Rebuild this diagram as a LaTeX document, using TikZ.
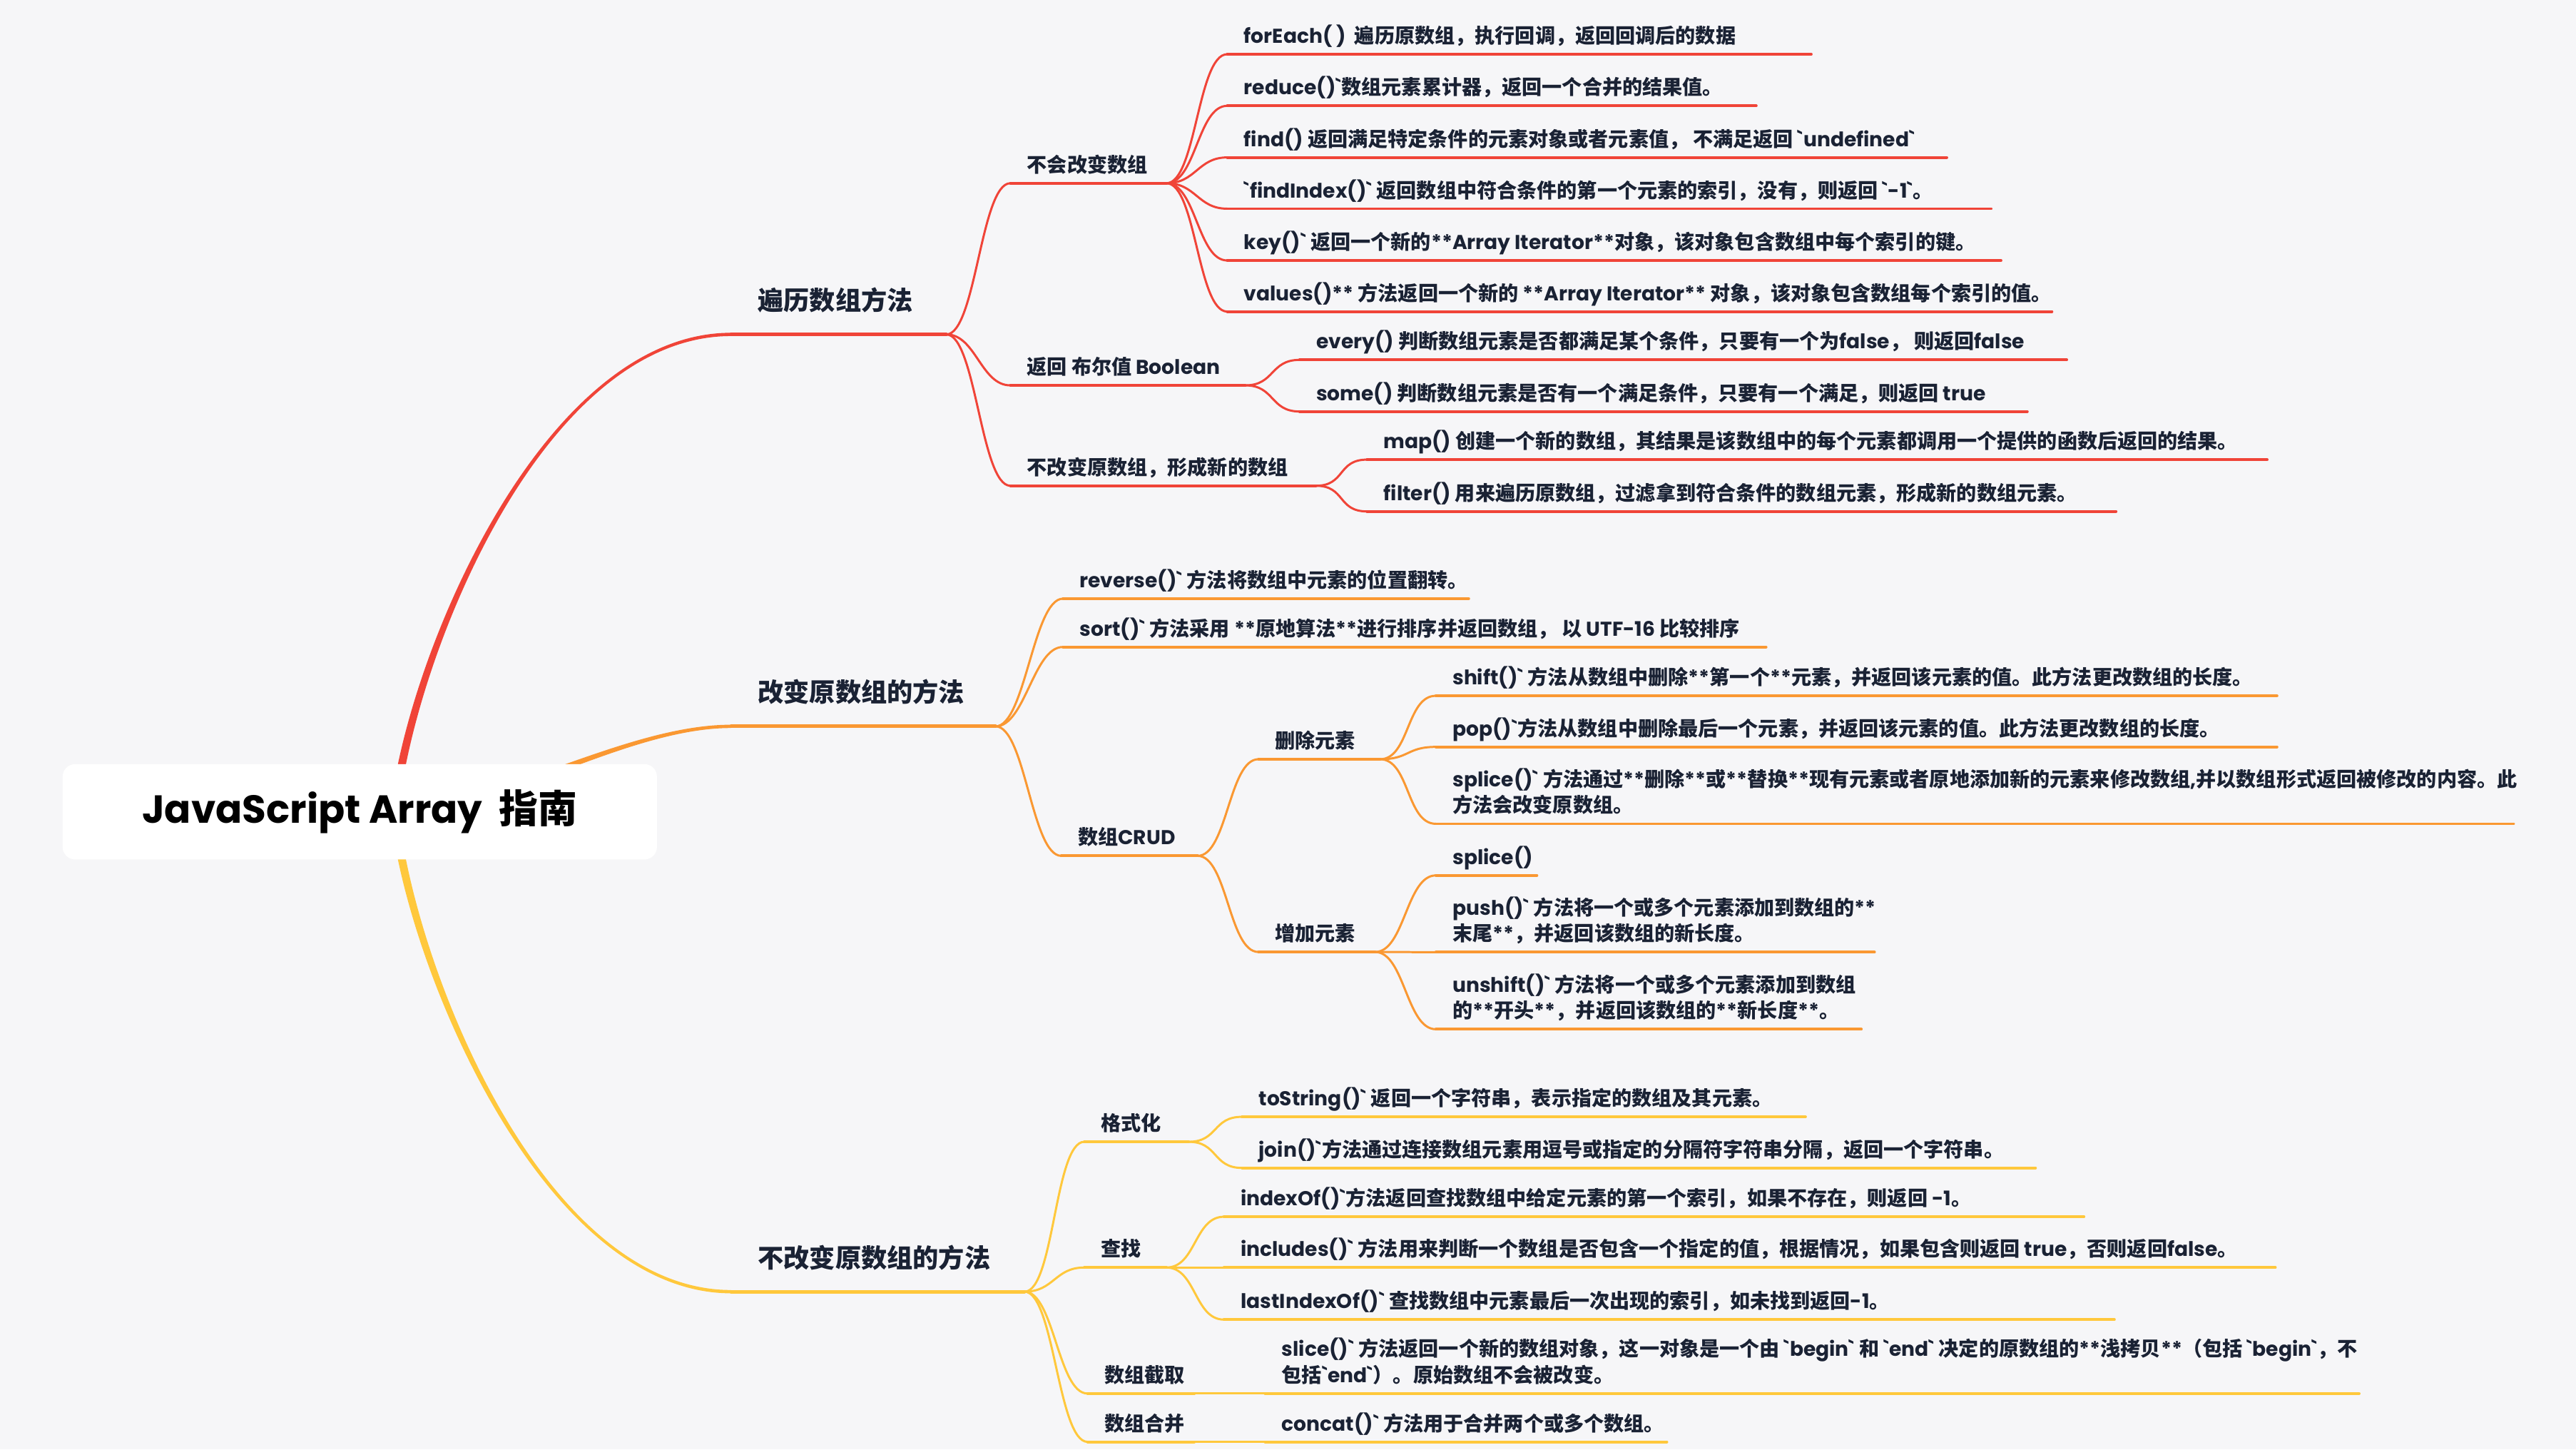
\documentclass[tikz,border=0pt]{standalone}
\usepackage{fontspec}
\usetikzlibrary{calc}
\newfontfamily\latfont{Poppins}
\newfontfamily\zhfont{Noto Sans CJK SC}
\definecolor{bgc}{RGB}{246,246,248}
\definecolor{brRed}{RGB}{240,68,56}
\definecolor{brOrg}{RGB}{250,152,50}
\definecolor{brYel}{RGB}{255,200,60}
\definecolor{ink}{RGB}{26,34,52}
% CJK runs are set in the CJK face, the rest in Poppins
\XeTeXinterchartokenstate=1
\newXeTeXintercharclass\zhcls
\newcount\clsi
\def\setcls#1#2#3{\clsi=#1\relax
  \loop\XeTeXcharclass\clsi=#3\relax\advance\clsi by 1\relax
  \ifnum\clsi<#2\relax\repeat}
\setcls{"21}{"100}{0}
\setcls{"3000}{"A000}{\zhcls}
\setcls{"FF00}{"FFF0}{\zhcls}
\XeTeXinterchartoks 0 \zhcls = {\begingroup\zhfont}
\XeTeXinterchartoks 4095 \zhcls = {\begingroup\zhfont}
\XeTeXinterchartoks \zhcls 0 = {\endgroup}
\XeTeXinterchartoks \zhcls 4095 = {\endgroup}

\begin{document}
\begin{tikzpicture}[x=0.02303cm, y=-0.02303cm,
    lab/.style={anchor=south west, inner xsep=6.5pt, inner ysep=2.4pt,
                text depth=1.8pt, align=left, text=ink,
                font=\latfont\bfseries\fontsize{8.0}{10.4}\selectfont},
    br/.style={anchor=south west, inner xsep=10.5pt, inner ysep=7pt,
               text depth=2.5pt, text=ink,
               font=\latfont\bfseries\fontsize{10.3}{12}\selectfont},
    ul/.style={line width=1.1pt, line cap=round},
    brul/.style={line width=1.4pt, line cap=round},
    wire/.style={line width=0.85pt, line cap=round},
    root/.style={fill=white, rounded corners=5pt, minimum width=237pt,
                 minimum height=38pt, inner sep=0pt, text=black,
                 font=\latfont\bfseries\fontsize{15.6}{18}\selectfont}]
  % page in reference pixels (1568 x 882), y pointing down
  \useasboundingbox (0,0) rectangle (1568,882);
  \fill[bgc] (0,0) rectangle (1568,882);
  \def\cx{18}
  \coordinate (hub) at (240,494);
  % --- branch 1: traversal ---------------------------------------------------
  \node[br]  (b1)  at (445,203.5) {遍历数组方法};
  \node[lab] (n11) at (615,111.5) {不会改变数组};
  \node[lab] (n12) at (615,234.5) {返回 布尔值 Boolean};
  \node[lab] (n13) at (615,295.6) {不改变原数组，形成新的数组};
  \node[lab] (forEach)   at (747,33)    {forEach( )~~遍历原数组，执行回调，返回回调后的数据};
  \node[lab] (reduce)    at (747,64.4)  {reduce()`数组元素累计器，返回一个合并的结果值。};
  \node[lab] (find)      at (747,95.8)  {find() 返回满足特定条件的元素对象或者元素值， 不满足返回 `undefined`};
  \node[lab] (findIndex) at (747,127)   {`findIndex()` 返回数组中符合条件的第一个元素的索引，没有，则返回 `-1`。};
  \node[lab] (key)       at (747,158.5) {key()` 返回一个新的**Array Iterator**对象，该对象包含数组中每个索引的键。};
  \node[lab] (values)    at (747,189.6) {values()** 方法返回一个新的 **Array Iterator** 对象，该对象包含数组每个索引的值。};
  \node[lab] (every)     at (791,219)   {every() 判断数组元素是否都满足某个条件，只要有一个为false， 则返回false};
  \node[lab] (some)      at (791,250.4) {some() 判断数组元素是否有一个满足条件，只要有一个满足，则返回 true};
  \node[lab] (map)       at (832,279.7) {map() 创建一个新的数组，其结果是该数组中的每个元素都调用一个提供的函数后返回的结果。};
  \node[lab] (filter)    at (832,311.2) {filter() 用来遍历原数组，过滤拿到符合条件的数组元素，形成新的数组元素。};
  % --- branch 2: mutating ----------------------------------------------------
  \node[br]  (b2)   at (445,442)   {改变原数组的方法};
  \node[lab] (reverse) at (647,364.3) {reverse()` 方法将数组中元素的位置翻转。};
  \node[lab] (sort)    at (647,393.7) {sort()` 方法采用 **原地算法**进行排序并返回数组， 以 UTF-16 比较排序};
  \node[lab] (n21)  at (646,520.8) {数组CRUD};
  \node[lab] (n211) at (766,462)   {删除元素};
  \node[lab] (n212) at (766,579.3) {增加元素};
  \node[lab] (shift)  at (874,423.4) {shift()` 方法从数组中删除**第一个**元素，并返回该元素的值。此方法更改数组的长度。};
  \node[lab] (pop)    at (874,454.5) {pop()`方法从数组中删除最后一个元素，并返回该元素的值。此方法更改数组的长度。};
  \node[lab] (splice) at (874,501.3) {splice()` 方法通过**删除**或**替换**现有元素或者原地添加新的元素来修改数组,并以数组形式返回被修改的内容。此\\方法会改变原数组。};
  \node[lab] (spliceAdd) at (874,532.7) {splice()};
  \node[lab] (push)    at (874,579.4) {push()` 方法将一个或多个元素添加到数组的**\\末尾**，并返回该数组的新长度。};
  \node[lab] (unshift) at (874,626.3) {unshift()` 方法将一个或多个元素添加到数组\\的**开头**，并返回该数组的**新长度**。};
  % --- branch 3: non-mutating ------------------------------------------------
  \node[br]  (b3)  at (445,786)   {不改变原数组的方法};
  \node[lab] (n31) at (660,694.8) {格式化};
  \node[lab] (n32) at (660,771.3) {查找};
  \node[lab] (n33) at (662,848)   {数组截取};
  \node[lab] (n34) at (662,877.4) {数组合并};
  \node[lab] (toString)    at (756,679.6) {toString()` 返回一个字符串，表示指定的数组及其元素。};
  \node[lab] (join)        at (756,710.7) {join()`方法通过连接数组元素用逗号或指定的分隔符字符串分隔，返回一个字符串。};
  \node[lab] (indexOf)     at (745,740.4) {indexOf()`方法返回查找数组中给定元素的第一个索引，如果不存在，则返回 -1。};
  \node[lab] (includes)    at (745,771.3) {includes()` 方法用来判断一个数组是否包含一个指定的值，根据情况，如果包含则返回 true，否则返回false。};
  \node[lab] (lastIndexOf) at (745,803)   {lastIndexOf()` 查找数组中元素最后一次出现的索引，如未找到返回-1。};
  \node[lab] (slice)  at (770,848)   {slice()` 方法返回一个新的数组对象，这一对象是一个由 `begin` 和 `end` 决定的原数组的**浅拷贝**（包括 `begin`，不\\包括`end`）。原始数组不会被改变。};
  \node[lab] (concat) at (770,877.4) {concat()` 方法用于合并两个或多个数组。};
  % --- main curves out of the root, tapering ---------------------------------
  \fill[brRed] ($(hub)+(-2.5,0)$) .. controls +(10,-94) and +(-115,0) .. ($(b1.south west)+(0,-1)$)
    -- ($(b1.south west)+(0,1)$) .. controls +(-115,0) and +(10,-94) .. ($(hub)+(2.5,0)$) -- cycle;
  \fill[brOrg] ($(hub)+(0,-2.5)$) .. controls +(60,0) and +(-65,0) .. ($(b2.south west)+(0,-1)$)
    -- ($(b2.south west)+(0,1)$) .. controls +(-65,0) and +(60,0) .. ($(hub)+(0,2.5)$) -- cycle;
  \fill[brYel] ($(hub)+(-2.5,0)$) .. controls +(10,94) and +(-115,0) .. ($(b3.south west)+(0,1)$)
    -- ($(b3.south west)+(0,-1)$) .. controls +(-115,0) and +(10,94) .. ($(hub)+(2.5,0)$) -- cycle;
  % --- underlines --------------------------------------------------------------
  \draw[brul, brRed] (b1.south west) -- ++(131,0) coordinate (b1-e);
  \draw[brul, brOrg] (b2.south west) -- ++(161,0) coordinate (b2-e);
  \draw[brul, brYel] (b3.south west) -- ++(178.6,0) coordinate (b3-e);
  \foreach \n/\l in {n11/95, n12/143, n13/186, forEach/355.5, reduce/322,
      find/438, findIndex/465, key/471, values/502, every/467, some/443,
      map/548, filter/456}
    \draw[ul, brRed] (\n.south west) -- ++(\l,0) coordinate (\n-e);
  \foreach \n/\l in {reverse/247, sort/428, n21/83, n211/74, n212/71,
      shift/512, pop/512, splice/656, spliceAdd/61.5, push/267, unshift/259}
    \draw[ul, brOrg] (\n.south west) -- ++(\l,0) coordinate (\n-e);
  \foreach \n/\l in {n31/63.5, n32/50, n33/65, n34/65, toString/343,
      join/483, indexOf/523.5, includes/640, lastIndexOf/542, slice/666,
      concat/244.6}
    \draw[ul, brYel] (\n.south west) -- ++(\l,0) coordinate (\n-e);
  % --- connectors --------------------------------------------------------------
  \foreach \p/\c in {b1-e/n11, b1-e/n12, b1-e/n13, n11-e/forEach, n11-e/reduce,
      n11-e/find, n11-e/findIndex, n11-e/key, n11-e/values, n12-e/every,
      n12-e/some, n13-e/map, n13-e/filter}
    \draw[wire, brRed] (\p) .. controls +(\cx,0) and +(-\cx,0) .. (\c.south west);
  \foreach \p/\c in {b2-e/reverse, b2-e/sort, b2-e/n21, n21-e/n211, n21-e/n212,
      n211-e/shift, n211-e/pop, n211-e/splice, n212-e/spliceAdd, n212-e/push,
      n212-e/unshift}
    \draw[wire, brOrg] (\p) .. controls +(\cx,0) and +(-\cx,0) .. (\c.south west);
  \foreach \p/\c in {b3-e/n31, b3-e/n32, b3-e/n33, b3-e/n34, n31-e/toString,
      n31-e/join, n32-e/indexOf, n32-e/includes, n32-e/lastIndexOf,
      n33-e/slice, n34-e/concat}
    \draw[wire, brYel] (\p) .. controls +(\cx,0) and +(-\cx,0) .. (\c.south west);
  % --- root on top -------------------------------------------------------------
  \node[root] (root) at (219,494) {JavaScript Array~~指南};
\end{tikzpicture}
\end{document}
